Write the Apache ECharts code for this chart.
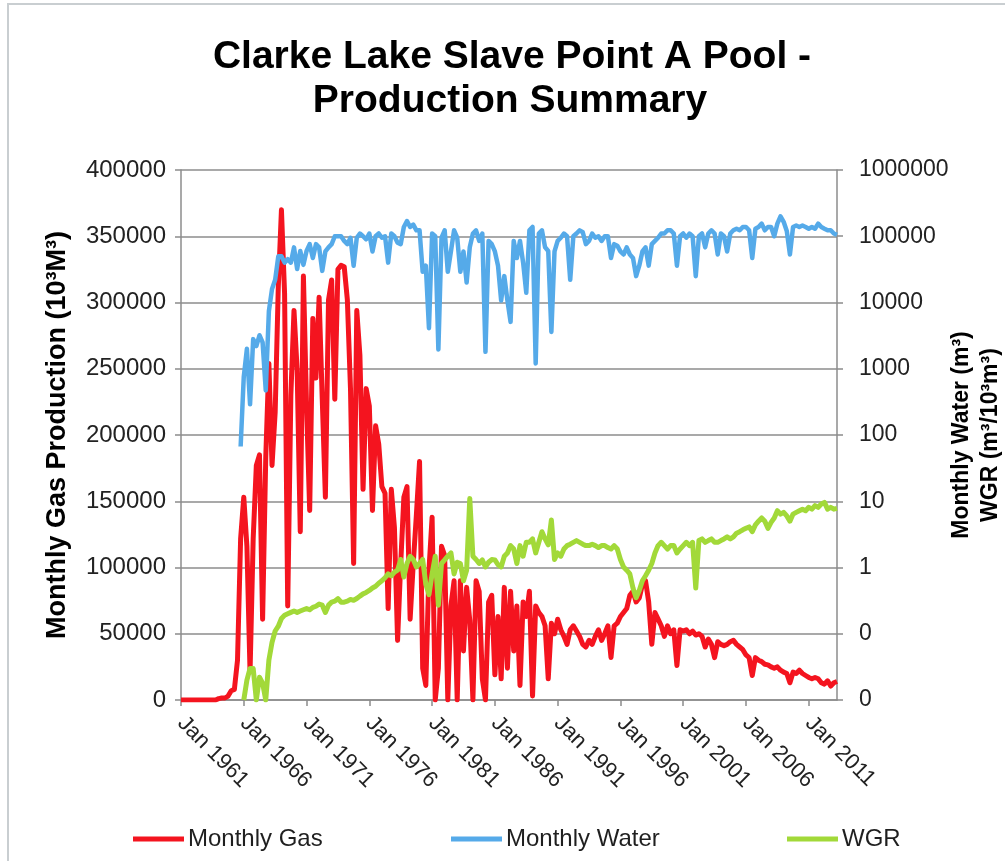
<!DOCTYPE html>
<html>
<head>
<meta charset="utf-8">
<title>Clarke Lake Slave Point A Pool - Production Summary</title>
<script src="https://cdn.jsdelivr.net/npm/echarts@6/dist/echarts.min.js"></script>
<style>
  html, body { margin: 0; padding: 0; background: #ffffff; }
  #chart { width: 1005px; height: 861px; }
</style>
</head>
<body>
<div id="chart"></div>
<script>
// Quarterly values, Jan 1961 onward (one row per year: Jan, Apr, Jul, Oct)
const STEP_MONTHS = 3;

// Monthly gas production, 10^3 m^3
const monthlyGas = [
  0, 0, 0, 0,                         // 1961
  0, 0, 0, 0,                         // 1962
  0, 0, 0, 0,                         // 1963
  1000, 1500, 1500, 3000,             // 1964
  7000, 8000, 30000, 122000,          // 1965
  153000, 116000, 21000, 122000,      // 1966
  177000, 185000, 61000, 183000,      // 1967
  254000, 177000, 217000, 312000,     // 1968
  370000, 307000, 71000, 230000,      // 1969
  294000, 249000, 127000, 320000,     // 1970
  222000, 143000, 288000, 243000,     // 1971
  304000, 227000, 153000, 302000,     // 1972
  317000, 227000, 325000, 328000,     // 1973
  327000, 302000, 235000, 103000,     // 1974
  294000, 260000, 159000, 235000,     // 1975
  222000, 143000, 207000, 193000,     // 1976
  161000, 156000, 69000, 159000,      // 1977
  130000, 45000, 103000, 153000,      // 1978
  161000, 61000, 103000, 140000,      // 1979
  180000, 24000, 11000, 98000,        // 1980
  138000, 0, 24000, 116000,           // 1981
  109000, 0, 71000, 90000,            // 1982
  0, 90000, 37000, 85000,             // 1983
  60000, 0, 90000, 82000,             // 1984
  16000, 0, 74000, 79000,             // 1985
  19000, 63000, 16000, 85000,         // 1986
  24000, 82000, 37000, 71000,         // 1987
  11000, 74000, 63000, 82000,         // 1988
  3000, 71000, 66000, 63000,          // 1989
  56000, 16000, 58000, 50000,         // 1990
  61000, 53000, 48000, 42000,         // 1991
  53000, 56000, 52000, 48000,         // 1992
  42000, 40000, 45000, 42000,         // 1993
  48000, 53000, 45000, 50000,         // 1994
  56000, 32000, 56000, 58000,         // 1995
  63000, 66000, 69000, 79000,         // 1996
  82000, 74000, 77000, 87000,         // 1997
  90000, 74000, 42000, 66000,         // 1998
  61000, 56000, 48000, 56000,         // 1999
  50000, 53000, 26000, 53000,         // 2000
  52000, 53000, 50000, 52000,         // 2001
  49000, 50000, 48000, 40000,         // 2002
  46000, 42000, 32000, 44000,         // 2003
  42000, 41000, 42000, 44000,         // 2004
  45000, 42000, 40000, 38000,         // 2005
  34000, 32000, 18500, 32000,         // 2006
  30000, 29000, 27000, 26500,         // 2007
  25000, 24000, 25000, 22500,         // 2008
  21000, 20000, 13000, 21000,         // 2009
  20000, 22500, 20000, 18500,         // 2010
  17000, 16000, 17000, 16000,         // 2011
  13000, 12000, 14500, 10500,         // 2012
  13000, 14000                        // 2013
];

// Monthly water production, m^3
const monthlyWater = [
  null, null, null, null,             // 1961
  null, null, null, null,             // 1962
  null, null, null, null,             // 1963
  null, null, null, null,             // 1964
  null, null, null, 67,               // 1965
  760, 2000, 290, 2800,               // 1966
  2200, 3200, 2500, 470,              // 1967
  7400, 16000, 22000, 50000,          // 1968
  50000, 40000, 45000, 40000,         // 1969
  68000, 32000, 60000, 37000,         // 1970
  60000, 76000, 47000, 76000,         // 1971
  68000, 30000, 59000, 68000,         // 1972
  76000, 100000, 100000, 100000,      // 1973
  85000, 76000, 95000, 36000,         // 1974
  95000, 110000, 100000, 90000,       // 1975
  110000, 59000, 100000, 110000,      // 1976
  95000, 100000, 40000, 110000,       // 1977
  100000, 80000, 76000, 138000,       // 1978
  170000, 138000, 150000, 123000,     // 1979
  123000, 29000, 36000, 4100,         // 1980
  110000, 100000, 1950, 95000,        // 1981
  123000, 29000, 59000, 123000,       // 1982
  95000, 29000, 59000, 20000,         // 1983
  68000, 110000, 123000, 85000,       // 1984
  110000, 1800, 85000, 76000,         // 1985
  59000, 36000, 10700, 25000,         // 1986
  10700, 5100, 85000, 47000,          // 1987
  85000, 40000, 14000, 123000,        // 1988
  138000, 1200, 110000, 123000,       // 1989
  68000, 60000, 3600, 59000,          // 1990
  85000, 95000, 110000, 100000,       // 1991
  22000, 100000, 110000, 123000,      // 1992
  115000, 76000, 85000, 110000,       // 1993
  95000, 100000, 85000, 100000,       // 1994
  100000, 47000, 76000, 72000,        // 1995
  59000, 53000, 68000, 53000,         // 1996
  47000, 25000, 36000, 59000,         // 1997
  68000, 36000, 76000, 85000,         // 1998
  95000, 110000, 110000, 123000,      // 1999
  123000, 110000, 36000, 100000,      // 2000
  110000, 95000, 110000, 100000,      // 2001
  25000, 100000, 110000, 68000,       // 2002
  110000, 123000, 110000, 53000,      // 2003
  110000, 100000, 59000, 110000,      // 2004
  123000, 130000, 123000, 138000,     // 2005
  138000, 123000, 47000, 130000,      // 2006
  138000, 155000, 123000, 138000,     // 2007
  138000, 100000, 155000, 200000,     // 2008
  165000, 120000, 53000, 138000,      // 2009
  145000, 138000, 145000, 138000,     // 2010
  130000, 138000, 130000, 155000,     // 2011
  138000, 130000, 123000, 123000,     // 2012
  110000, 105000                      // 2013
];

// Water-gas ratio, m^3 / 10^3 m^3
const wgr = [
  null, null, null, null,             // 1961
  null, null, null, null,             // 1962
  null, null, null, null,             // 1963
  null, null, null, null,             // 1964
  null, null, null, null,             // 1965
  0.01, 0.02, 0.03, 0.03,             // 1966
  0.01, 0.022, 0.018, 0.01,           // 1967
  0.04, 0.074, 0.11, 0.13,            // 1968
  0.17, 0.19, 0.2, 0.21,              // 1969
  0.22, 0.21, 0.22, 0.23,             // 1970
  0.24, 0.23, 0.25, 0.26,             // 1971
  0.28, 0.27, 0.21, 0.27,             // 1972
  0.3, 0.31, 0.34, 0.3,               // 1973
  0.3, 0.31, 0.33, 0.32,              // 1974
  0.34, 0.37, 0.4, 0.42,              // 1975
  0.45, 0.49, 0.52, 0.58,             // 1976
  0.63, 0.7, 0.8, 0.75,               // 1977
  0.85, 0.91, 1.32, 0.72,             // 1978
  1.15, 1.48, 1.32, 1.02,             // 1979
  1.15, 1.32, 0.56, 0.39,             // 1980
  0.8, 1.48, 0.27, 1.15,              // 1981
  1.3, 1.48, 1.66, 0.8,               // 1982
  1.2, 1.15, 0.63, 0.91,              // 1983
  11, 1.48, 1.32, 1.15,               // 1984
  1.3, 1.02, 1.2, 1.32,               // 1985
  1.3, 1.1, 1.02, 1.48,               // 1986
  1.66, 2.14, 1.9, 1.15,              // 1987
  2.14, 1.48, 2.4, 2.4,               // 1988
  2.7, 1.66, 2.4, 3.47,               // 1989
  2.7, 2.2, 5.2, 1.32,                // 1990
  1.66, 1.48, 1.9, 2.14,              // 1991
  2.25, 2.4, 2.55, 2.4,               // 1992
  2.25, 2.14, 2.14, 2.25,             // 1993
  2.14, 2.0, 2.14, 2.14,              // 1994
  2.0, 1.9, 2.14, 1.9,                // 1995
  1.32, 1.02, 0.91, 0.8,              // 1996
  0.49, 0.35, 0.45, 0.63,             // 1997
  0.75, 0.91, 1.15, 1.66,             // 1998
  2.14, 2.4, 2.14, 1.9,               // 1999
  2.14, 2.14, 1.66, 1.9,              // 2000
  2.14, 2.4, 2.14, 2.4,               // 2001
  0.49, 2.55, 2.7, 2.4,               // 2002
  2.55, 2.7, 2.4, 2.4,                // 2003
  2.55, 2.7, 2.9, 2.7,                // 2004
  2.9, 3.3, 3.47, 3.7,                // 2005
  3.9, 4.1, 3.47, 4.4,                // 2006
  5.0, 5.6, 5.0, 3.9,                 // 2007
  4.8, 5.6, 7.2, 6.4,                 // 2008
  6.8, 6.0, 5.0, 6.4,                 // 2009
  6.8, 7.2, 7.6, 7.2,                 // 2010
  8.1, 7.6, 8.6, 8.1,                 // 2011
  9.1, 9.6, 7.6, 8.1,                 // 2012
  7.6, 7.8                            // 2013
];

// Axis ticks: x in months since Jan 1961
const START_YEAR = 1961;
const X_MAX_MONTHS = 627;
const X_TICK_MONTHS = 60;
const gasTicks = { min: 0, max: 400000, interval: 50000 };
const logTicks = { min: 0.01, max: 1000000 };

const titleLines = ['Clarke Lake Slave Point A Pool -', 'Production Summary'];
const seriesNames = ['Monthly Gas', 'Monthly Water', 'WGR'];
const colors = ['#f4141f', '#55aae9', '#a2d939'];

const toPairs = arr => arr.map((v, i) => [i * STEP_MONTHS, v]);

const FONT = '"Liberation Sans", Arial, sans-serif';
const gridGray = '#a9a9a9';
const axisGray = '#8c8c8c';

const chart = echarts.init(document.getElementById('chart'), null, { renderer: 'canvas' });

chart.setOption({
  animation: false,
  backgroundColor: '#ffffff',
  textStyle: { fontFamily: FONT },
  graphic: [
    {
      type: 'rect', silent: true, z: -10,
      shape: { x: 8, y: 4, width: 1100, height: 1000 },
      style: { fill: null, stroke: '#c9ced1', lineWidth: 2 }
    },
    {
      type: 'text', silent: true, x: 512, y: 57,
      style: {
        text: titleLines[0], fontFamily: FONT, fontWeight: 'bold', fontSize: 39,
        fill: '#000000', align: 'center', verticalAlign: 'middle'
      }
    },
    {
      type: 'text', silent: true, x: 510, y: 101,
      style: {
        text: titleLines[1], fontFamily: FONT, fontWeight: 'bold', fontSize: 39,
        fill: '#000000', align: 'center', verticalAlign: 'middle'
      }
    }
  ],
  legend: [
    { data: [seriesNames[0]], left: 133 },
    { data: [seriesNames[1]], left: 451 },
    { data: [seriesNames[2]], left: 787 }
  ].map(l => Object.assign({
    top: 827, padding: 0, icon: 'rect', itemWidth: 51, itemHeight: 5, itemGap: 4,
    textStyle: { fontFamily: FONT, fontSize: 24, color: '#1f1f1f', padding: [0, 0, 0, -1] }
  }, l)),
  grid: { left: 181, right: 168, top: 170, bottom: 161, containLabel: false, outerBoundsMode: 'none' },
  xAxis: {
    type: 'value',
    min: 0, max: X_MAX_MONTHS, interval: X_TICK_MONTHS,
    axisLine: { show: true, lineStyle: { color: axisGray, width: 1.5 } },
    axisTick: { show: true, length: 6, lineStyle: { color: axisGray, width: 1.5 } },
    splitLine: { show: false },
    axisLabel: {
      rotate: -45, margin: 20, fontSize: 22, color: '#222222', fontFamily: FONT,
      showMaxLabel: false,
      formatter: v => (v % X_TICK_MONTHS === 0 ? 'Jan ' + (START_YEAR + v / 12) : '')
    }
  },
  yAxis: [
    {
      type: 'value',
      min: gasTicks.min, max: gasTicks.max, interval: gasTicks.interval,
      name: 'Monthly Gas Production (10³M³)',
      nameLocation: 'middle', nameRotate: 90, nameGap: 110, nameMoveOverlap: false,
      nameTextStyle: { fontFamily: FONT, fontWeight: 'bold', fontSize: 27, color: '#000000' },
      axisLine: { show: true, lineStyle: { color: axisGray, width: 1.5 } },
      axisTick: { show: true, length: 6, lineStyle: { color: axisGray, width: 1.5 } },
      splitLine: { show: true, lineStyle: { color: gridGray, width: 2 } },
      axisLabel: {
        fontSize: 24, color: '#222222', margin: 15, fontFamily: FONT,
        formatter: v => String(Math.round(v))
      }
    },
    {
      type: 'log', logBase: 10,
      min: logTicks.min, max: logTicks.max,
      position: 'right',
      name: 'Monthly Water (m³)\nWGR (m³/10³m³)',
      nameLocation: 'middle', nameRotate: 90, nameGap: 110, nameMoveOverlap: false,
      nameTextStyle: { fontFamily: FONT, fontWeight: 'bold', fontSize: 23, lineHeight: 29, color: '#000000', align: 'center' },
      axisLine: { show: true, lineStyle: { color: axisGray, width: 1.5 } },
      axisTick: { show: true, length: 6, lineStyle: { color: axisGray, width: 1.5 } },
      splitLine: { show: false },
      axisLabel: {
        fontSize: 23, color: '#222222', margin: 22, fontFamily: FONT,
        formatter: v => (v < 1 ? '0' : String(Math.round(v)))
      }
    }
  ],
  series: [
    {
      name: seriesNames[0], type: 'line', yAxisIndex: 0,
      data: toPairs(monthlyGas), showSymbol: false, symbol: 'none',
      itemStyle: { color: colors[0] },
      lineStyle: { color: colors[0], width: 5, join: 'round' }, z: 2
    },
    {
      name: seriesNames[1], type: 'line', yAxisIndex: 1,
      data: toPairs(monthlyWater), showSymbol: false, symbol: 'none', connectNulls: false,
      itemStyle: { color: colors[1] },
      lineStyle: { color: colors[1], width: 4.5, join: 'round' }, z: 3
    },
    {
      name: seriesNames[2], type: 'line', yAxisIndex: 1,
      data: toPairs(wgr), showSymbol: false, symbol: 'none', connectNulls: false,
      itemStyle: { color: colors[2] },
      lineStyle: { color: colors[2], width: 5, join: 'round' }, z: 4
    }
  ]
});
</script>
</body>
</html>
